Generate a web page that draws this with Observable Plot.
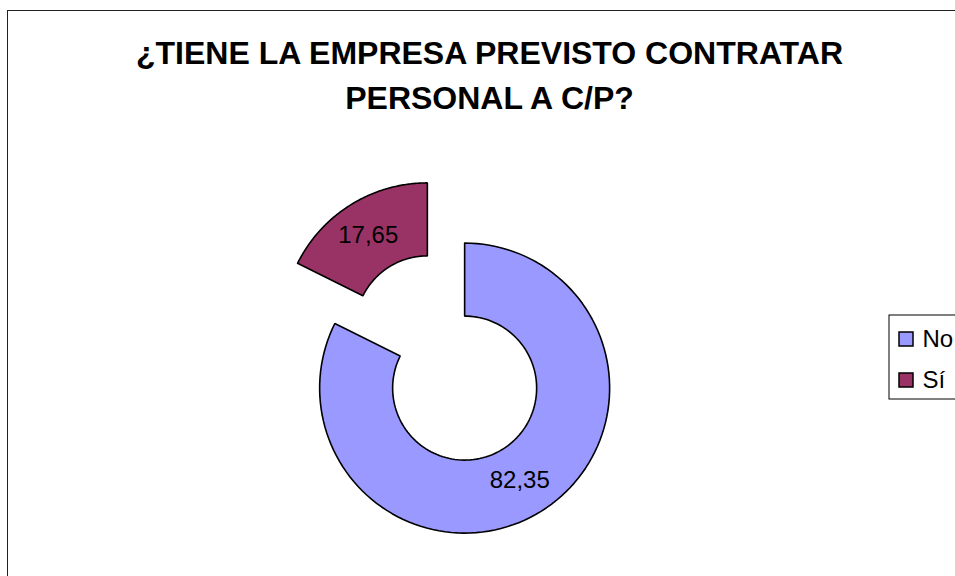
<!DOCTYPE html>
<html>
<head>
<meta charset="utf-8">
<script src="https://cdn.jsdelivr.net/npm/d3@7"></script>
<script src="https://cdn.jsdelivr.net/npm/@observablehq/plot@0.6"></script>
<style>
  html, body { margin: 0; padding: 0; background: #fff; overflow: hidden; }
  #wrap { position: relative; width: 955px; height: 576px; overflow: hidden; }
  #frame { position: absolute; left: 7px; top: 10px; width: 1200px; height: 1200px; border: 1.5px solid #222; box-sizing: border-box; pointer-events: none; }
  #chart { position: absolute; left: 0; top: 0; }
</style>
</head>
<body>
<div id="wrap"><div id="chart"></div><div id="frame"></div></div>
<script>
const categories = ["No", "Sí"];
const values = [82.35, 17.65];
const valueLabels = ["82,35", "17,65"];
const colors = ["#9999FF", "#993366"];
const titleLines = ["¿TIENE LA EMPRESA PREVISTO CONTRATAR", "PERSONAL A C/P?"];

// layout constants (pixels)
const W = 955, H = 576;
const cx = 445.5, cy = 357.5, rOut = 145, rIn = 72, explode = 35.4;

const pie = d3.pie().sort(null).value(d => d.value);
const arcs = pie(categories.map((c, i) => ({cat: c, value: values[i], label: valueLabels[i]})));

const points = [];
const labelPts = [];
for (const a of arcs) {
  const mid = (a.startAngle + a.endAngle) / 2;
  const ox = cx + explode * Math.sin(mid), oy = cy - explode * Math.cos(mid);
  const n = 120;
  const poly = [];
  for (let k = 0; k <= n; k++) {
    const t = a.startAngle + (a.endAngle - a.startAngle) * k / n;
    poly.push([ox + rOut * Math.sin(t), oy - rOut * Math.cos(t)]);
  }
  for (let k = n; k >= 0; k--) {
    const t = a.startAngle + (a.endAngle - a.startAngle) * k / n;
    poly.push([ox + rIn * Math.sin(t), oy - rIn * Math.cos(t)]);
  }
  poly.push(poly[0]);
  for (const [x, y] of poly) points.push({cat: a.data.cat, x, y});
  const rm = (rOut + rIn) / 2;
  labelPts.push({x: ox + rm * Math.sin(mid) - 2, y: oy - rm * Math.cos(mid), text: a.data.label});
}

const titleData = titleLines.map((t, i) => ({text: t, x: 489, y: 53 + i * 45}));
const legendData = categories.map((c, i) => ({cat: c, x: 906, y: 339 + i * 41}));

const chart = Plot.plot({
  width: W, height: H,
  margin: 0,
  x: {domain: [0, W], range: [0, W], axis: null},
  y: {domain: [0, H], range: [0, H], axis: null},
  color: {domain: categories, range: colors},
  style: {fontFamily: "Liberation Sans, Arial, sans-serif", background: "transparent"},
  marks: [
    Plot.line(points, {x: "x", y: "y", z: "cat", fill: "cat", stroke: "#000", strokeWidth: 1.6, strokeLinejoin: "miter", curve: "linear"}),
    Plot.text(labelPts, {x: "x", y: "y", text: "text", fontSize: 24, fill: "#000"}),
    Plot.text(titleData, {x: "x", y: "y", text: "text", fontSize: 32, fontWeight: "bold", fill: "#000"}),
    // legend box
    Plot.rect([{x1: 889, x2: 1000, y1: 315, y2: 399}], {x1: "x1", x2: "x2", y1: "y1", y2: "y2", fill: "#fff", stroke: "#000", strokeWidth: 1}),
    Plot.rect(legendData, {x1: d => d.x - 7, x2: d => d.x + 7, y1: d => d.y - 7, y2: d => d.y + 7, fill: "cat", stroke: "#000", strokeWidth: 1.5}),
    Plot.text(legendData, {x: d => d.x + 16, y: "y", text: "cat", fontSize: 24, textAnchor: "start", fill: "#000"})
  ]
});
document.getElementById("chart").appendChild(chart);
</script>
</body>
</html>
